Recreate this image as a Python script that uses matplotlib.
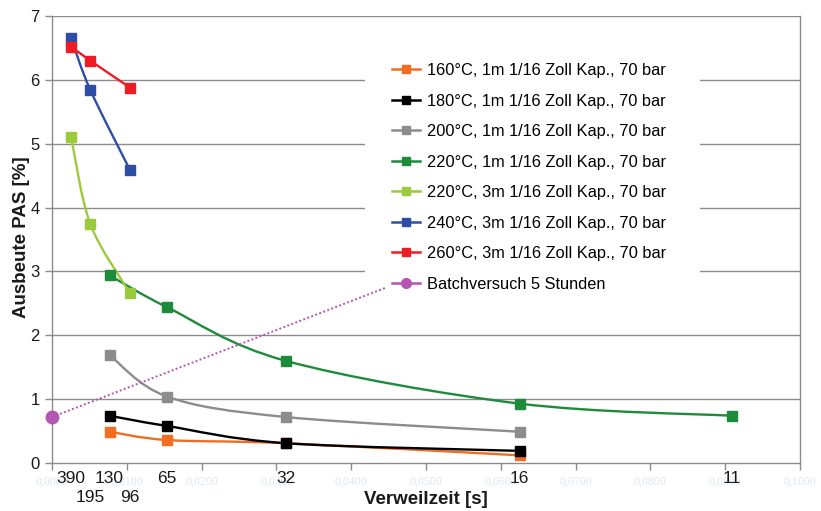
import numpy as np
import matplotlib
matplotlib.use("Agg")
import matplotlib.pyplot as plt
from matplotlib.path import Path
from matplotlib.patches import PathPatch, Rectangle
from matplotlib.lines import Line2D
from matplotlib.transforms import blended_transform_factory

plt.rcParams["font.family"] = ["Liberation Sans", "DejaVu Sans"]

# Residence times [s] and yields of PAS [%] per series
t_160 = [130, 65, 32, 16]
y_160 = [0.49, 0.36, 0.31, 0.12]

t_180 = [130, 65, 32, 16]
y_180 = [0.74, 0.58, 0.31, 0.19]

t_200 = [130, 65, 32, 16]
y_200 = [1.69, 1.04, 0.72, 0.49]

t_220a = [130, 65, 32, 16, 11]
y_220a = [2.94, 2.44, 1.60, 0.93, 0.74]

t_220b = [390, 195, 96]
y_220b = [5.10, 3.74, 2.66]

t_240 = [390, 195, 96]
y_240 = [6.65, 5.84, 4.59]

t_260 = [390, 195, 96]
y_260 = [6.52, 6.30, 5.88]

# Batch experiment (5 h) and its dotted guide line
batch_x = [0.0, 0.0445]
batch_y = [0.72, 2.74]

# Residence-time labels written under the axis
time_labels = [390, 195, 130, 96, 65, 32, 16, 11]
time_label_row2 = [195, 96]

labels = [
    "160°C, 1m 1/16 Zoll Kap., 70 bar",
    "180°C, 1m 1/16 Zoll Kap., 70 bar",
    "200°C, 1m 1/16 Zoll Kap., 70 bar",
    "220°C, 1m 1/16 Zoll Kap., 70 bar",
    "220°C, 3m 1/16 Zoll Kap., 70 bar",
    "240°C, 3m 1/16 Zoll Kap., 70 bar",
    "260°C, 3m 1/16 Zoll Kap., 70 bar",
    "Batchversuch 5 Stunden",
]
colors = ["#f26c22", "#000000", "#8c8c8c", "#1e8b3b", "#9bca3c",
          "#2e4da5", "#ee1c24", "#b455b1"]

series = [(t_160, y_160), (t_180, y_180), (t_200, y_200), (t_220a, y_220a),
          (t_220b, y_220b), (t_240, y_240), (t_260, y_260)]


def smooth_path(x, y):
    """Cubic Bezier path through the points (spreadsheet-style smoothing)."""
    pts = np.column_stack([x, y]).astype(float)
    n = len(pts)
    verts = [pts[0]]
    codes = [Path.MOVETO]
    for i in range(n - 1):
        p0 = pts[i - 1] if i > 0 else pts[i]
        p1 = pts[i]
        p2 = pts[i + 1]
        p3 = pts[i + 2] if i + 2 < n else pts[i + 1]
        c1 = p1 + (p2 - p0) / 6.0
        c2 = p2 - (p3 - p1) / 6.0
        verts += [c1, c2, p2]
        codes += [Path.CURVE4] * 3
    return Path(np.array(verts), codes)


W, H = 821, 511
fig = plt.figure(figsize=(W / 100, H / 100), dpi=100)
ax = fig.add_axes([52 / W, 48 / H, 748 / W, 447 / H])

ax.set_xlim(0, 0.1)
ax.set_ylim(0, 7)

grid_c = "#8c8c8c"
for v in range(1, 8):
    ax.axhline(v, color=grid_c, lw=1.0, zorder=1)

for sp in ["left", "bottom", "right"]:
    ax.spines[sp].set_color(grid_c)
    ax.spines[sp].set_linewidth(1.0)
ax.spines["top"].set_visible(False)

ax.set_yticks(range(0, 8))
ax.set_yticklabels([str(v) for v in range(0, 8)], fontsize=12, color="#1a1a1a")
ax.tick_params(axis="y", length=5, width=1, color=grid_c, pad=4)

xt = np.round(np.arange(0, 0.1001, 0.01), 4)
ax.set_xticks(xt)
ax.set_xticklabels([f"{v:.4f}".replace(".", ",") for v in xt],
                   fontsize=8.5, color="#dde7ee", family="Liberation Serif")
ax.tick_params(axis="x", length=5, width=1, color=grid_c, pad=4)

for (t, y), c in zip(series, colors[:7]):
    x = 1.0 / np.array(t, dtype=float)
    ax.add_patch(PathPatch(smooth_path(x, y), fill=False, edgecolor=c,
                           lw=1.7, zorder=3))
    ax.plot(x, y, ls="none", marker="s", ms=6.5, color=c, zorder=4)

ax.plot(batch_x, batch_y, ls=(0, (1, 1.2)), lw=1.4, color=colors[7],
        zorder=6, clip_on=False)
ax.plot(batch_x[:1], batch_y[:1], ls="none", marker="o", ms=9,
        color=colors[7], zorder=7, clip_on=False)

trans = blended_transform_factory(ax.transData, ax.transAxes)
for tl in time_labels:
    yrow = -15 / 447 if tl not in time_label_row2 else -34 / 447
    ax.text(1.0 / tl, yrow, str(tl), transform=trans, ha="center", va="center",
            fontsize=12.5, color="#1a1a1a", clip_on=False)

# white legend area that masks the gridlines behind it
ax.add_patch(Rectangle((365 / W, 1 - 302 / H), 335 / W, 258 / H,
                       transform=fig.transFigure, facecolor="white",
                       edgecolor="none", zorder=4.5, clip_on=False))

handles = []
for i, c in enumerate(colors):
    mk = "o" if i == 7 else "s"
    handles.append(Line2D([0], [0], color=c, lw=1.8, marker=mk,
                          ms=7 if i == 7 else 6, markeredgecolor=c))
leg = ax.legend(handles, labels, loc="upper left",
                bbox_to_anchor=(384 / W, 1 - 55 / H),
                bbox_transform=fig.transFigure, frameon=True, fontsize=11.8,
                labelspacing=0.945, handlelength=1.7, handletextpad=0.43,
                borderpad=0.5, borderaxespad=0, numpoints=1)
leg.get_frame().set_facecolor("white")
leg.get_frame().set_edgecolor("none")
leg.get_frame().set_alpha(1.0)
leg.set_zorder(5)

fig.text(22 / W, 1 - 237 / H, "Ausbeute PAS [%]", rotation=90, ha="center",
         va="center", fontsize=13.5, fontweight="bold", color="#1a1a1a")
fig.text(426 / W, 1 - 500 / H, "Verweilzeit [s]", ha="center", va="center",
         fontsize=13.5, fontweight="bold", color="#1a1a1a")

fig.savefig("out.png", dpi=100, facecolor="white")
